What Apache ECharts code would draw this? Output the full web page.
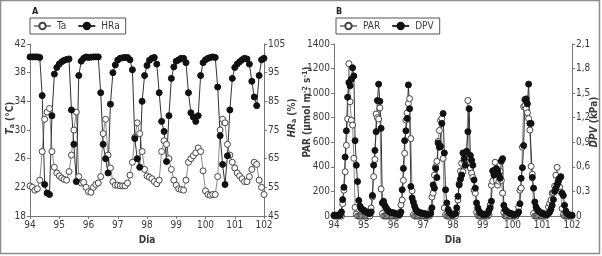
<!DOCTYPE html>
<html>
<head>
<meta charset="utf-8">
<script src="https://cdn.jsdelivr.net/npm/echarts@6/dist/echarts.min.js"></script>
<style>
  html, body { margin: 0; padding: 0; background: #fff; }
  #container { width: 602px; height: 256px; }
</style>
</head>
<body>
<div id="container"></div>
<script>
  // panel A: every 2 h, day 94 -> 102
  let stepA = 1 / 12;
  let ta = [
    22.2, 22.0, 21.6, 21.8, 23.0, 27.0, 31.5, 32.5, 33.0, 27.0, 24.8, 24.0,   // 94
    23.6, 23.3, 23.1, 23.0, 24.2, 26.5, 30.0, 32.5, 23.5, 22.6, 22.7, 22.0,   // 95
    21.4, 21.3, 22.0, 22.4, 22.6, 23.5, 29.5, 31.5, 26.5, 24.7, 22.8, 22.3,   // 96
    22.3, 22.2, 22.2, 22.2, 22.6, 23.7, 25.5, 29.0, 31.0, 29.5, 27.0, 24.5,   // 97
    23.6, 23.4, 23.2, 22.8, 22.5, 23.0, 27.0, 28.5, 28.0, 26.0, 24.5, 23.0,   // 98
    22.3, 21.8, 21.7, 21.6, 23.0, 25.5, 26.0, 26.4, 26.8, 27.5, 27.0, 24.3,   // 99
    21.5, 21.0, 20.9, 21.0, 21.0, 23.5, 30.0, 31.5, 31.0, 28.0, 26.5, 25.5,   // 100
    24.7, 24.0, 23.6, 23.2, 22.8, 22.8, 23.5, 24.5, 25.5, 25.2, 23.0, 22.0,   // 101
    21.0
  ];
  let hra = [
    100.5, 100.5, 100.5, 100.5, 100.3, 87, 56, 53, 52.5, 80, 94.5, 96.8,
    98, 98.8, 99.3, 99.6, 99.8, 82, 70, 57, 94, 99, 100, 100.5,
    100.3, 100.4, 100.5, 100.5, 100.5, 88, 70, 65, 60, 84, 95, 97.7,
    99.4, 100, 100.2, 100.3, 100.3, 99.5, 96, 72, 65, 62, 85, 94,
    97.5, 99.3, 100, 100.3, 98, 88, 78, 74.5, 64, 80, 93, 97,
    99, 99.5, 100, 100, 98.5, 88, 81, 79.5, 78, 80, 94, 98.5,
    99.5, 100, 100.3, 100.5, 100.3, 90, 73, 63, 56, 66, 82, 93,
    96.8, 98, 98.8, 99.5, 100, 99.8, 98, 92, 86.5, 83.5, 94, 99.5,
    100
  ];

  // panel B: hourly, day 94 -> 102
  let stepB = 1 / 24;
  let par = [
    0,0,0,0,0,0, 0,100,210,360,575,790, 1240,930,780,740,470,70, 15,0,0,0,0,0,
    0,0,0,0,0,0, 65,155,320,460,830,800, 790,880,220,20,0,0, 0,0,0,0,0,0,
    0,0,0,0,0,10, 90,130,290,510,780,840, 915,955,630,205,10,0, 0,0,0,0,0,0,
    0,0,0,0,0,0, 40,154,186,332,400,445, 607,696,777,793,469,65, 10,0,0,0,0,0,
    0,0,0,30,130,265, 365,430,360,450,455,470, 940,480,390,350,315,210, 185,30,5,0,0,0,
    0,0,0,0,0,10, 89,251,283,372,437,291, 251,283,364,290,186,30, 0,0,0,0,0,0,
    0,0,0,0,20,73, 210,227,560,890,898,874, 840,793,700,404,340,20, 0,0,0,0,0,0,
    0,0,0,0,10,73, 100,130,186,190,243,332, 396,300,235,194,60,10, 0,0,0,0,0,0,
    0
  ];
  let dpv = [
    0.01,0.01,0.01,0.01,0.01,0.01, 0.05,0.20,0.35,0.72,1.04,1.45, 1.63,1.59,1.67,1.81,1.71,0.92, 0.62,0.42,0.19,0.12,0.09,0.08,
    0.07,0.06,0.05,0.04,0.03,0.03, 0.05,0.25,0.62,0.80,1.03,1.41, 1.61,1.40,1.07,0.16,0.18,0.13, 0.10,0.08,0.06,0.05,0.04,0.04,
    0.04,0.03,0.03,0.02,0.02,0.02, 0.05,0.32,0.58,0.92,1.04,1.19, 1.60,1.31,0.36,0.22,0.17,0.12, 0.08,0.06,0.05,0.04,0.04,0.03,
    0.03,0.03,0.02,0.02,0.02,0.02, 0.03,0.10,0.38,0.34,0.58,0.47, 0.89,0.84,0.85,1.13,1.25,0.77, 0.32,0.16,0.08,0.05,0.03,0.02,
    0.02,0.02,0.03,0.10,0.24,0.38, 0.45,0.50,0.77,0.70,0.62,0.79, 1.03,1.31,0.74,0.68,0.62,0.44, 0.34,0.16,0.10,0.06,0.04,0.03,
    0.02,0.02,0.02,0.02,0.03,0.07, 0.10,0.18,0.55,0.50,0.56,0.58, 0.55,0.50,0.46,0.67,0.70,0.13, 0.08,0.06,0.05,0.04,0.03,0.03,
    0.02,0.02,0.02,0.02,0.03,0.05, 0.15,0.46,0.59,0.86,1.42,1.43, 1.37,1.61,1.13,1.13,0.47,0.34, 0.17,0.11,0.08,0.06,0.05,0.04,
    0.03,0.03,0.02,0.02,0.02,0.03, 0.05,0.08,0.13,0.20,0.30,0.34, 0.38,0.42,0.46,0.48,0.28,0.25, 0.13,0.06,0.03,0.02,0.01,0.01,
    0.01
  ];

  let font = '"Liberation Sans Narrow", "DejaVu Sans Condensed", sans-serif';
  let txt = '#3a3a3a';

  function pairs(vals, step) {
    return vals.map(function (v, i) { return [94 + i * step, v]; });
  }
  function plain(v) { return String(v); }

  function xAx(grid) {
    return {
      type: 'value', gridIndex: grid, min: 94, max: 102, interval: 1,
      name: 'Dia', nameLocation: 'middle', nameGap: 19,
      nameTextStyle: { fontFamily: font, fontWeight: 'bold', fontSize: 10, color: txt },
      axisLine: { lineStyle: { color: '#777' } },
      axisTick: { length: 3, lineStyle: { color: '#777' } },
      axisLabel: { fontFamily: font, fontSize: 10, color: txt, margin: 4, formatter: plain },
      splitLine: { show: false }
    };
  }
  function yAx(grid, pos, min, max, interval, fmt) {
    return {
      type: 'value', gridIndex: grid, position: pos, min: min, max: max, interval: interval,
      axisLine: { show: true, lineStyle: { color: '#777' } },
      axisTick: { show: true, length: 3, lineStyle: { color: '#777' } },
      axisLabel: { fontFamily: font, fontSize: 10, color: txt, margin: 4, formatter: fmt || plain },
      splitLine: { show: false }
    };
  }
  function openSeries(name, xi, yi, data) {
    return {
      name: name, type: 'line', xAxisIndex: xi, yAxisIndex: yi, data: data,
      symbol: 'circle', symbolSize: 6, showAllSymbol: true,
      lineStyle: { color: '#8a8a8a', width: 1 },
      itemStyle: { color: '#fff', borderColor: '#444', borderWidth: 1 }
    };
  }
  function fullSeries(name, xi, yi, data) {
    return {
      name: name, type: 'line', xAxisIndex: xi, yAxisIndex: yi, data: data,
      symbol: 'circle', symbolSize: 6, showAllSymbol: true,
      lineStyle: { color: '#333', width: 1 },
      itemStyle: { color: '#111', borderColor: '#111', borderWidth: 1 }
    };
  }
  function legend(items, left) {
    return {
      data: items, left: left, top: 18, orient: 'horizontal',
      borderColor: '#555', borderWidth: 1, borderRadius: 0,
      padding: [3, 6, 3, 3], itemGap: 11, itemWidth: 17, itemHeight: 8,
      textStyle: { fontFamily: font, fontSize: 10, color: txt, padding: [0, 0, 0, 1] }
    };
  }
  function vText(x, y, text, rich) {
    return {
      type: 'text', x: x, y: y, rotation: Math.PI / 2,
      style: {
        text: text, rich: rich, fontFamily: font, fontSize: 10, fontWeight: 'bold',
        fill: txt, align: 'center', verticalAlign: 'middle'
      }
    };
  }

  let sub = { fontFamily: font, fontSize: 7, fontWeight: 'bold', verticalAlign: 'bottom', padding: [4, 0, 0, 0] };
  let sup = { fontFamily: font, fontSize: 7, fontWeight: 'bold', verticalAlign: 'top', padding: [0, 0, 4, 0] };
  let it = { fontFamily: font, fontSize: 10, fontWeight: 'bold', fontStyle: 'italic' };
  let n = { fontFamily: font, fontSize: 10, fontWeight: 'bold' };

  let myChart = echarts.init(document.getElementById('container'));
  let option = {
    animation: false,
    backgroundColor: '#fff',
    grid: [
      { left: 30, top: 44, width: 234, height: 172 },
      { left: 334, top: 44, width: 238, height: 172 }
    ],
    legend: [legend(['Ta', 'HRa'], 30), legend(['PAR', 'DPV'], 336)],
    xAxis: [xAx(0), xAx(1)],
    yAxis: [
      yAx(0, 'left', 18, 42, 4),
      yAx(0, 'right', 45, 105, 10),
      yAx(1, 'left', 0, 1400, 200),
      yAx(1, 'right', 0, 2.1, 0.3, function (v) {
        return v === 0 ? '0' : v.toFixed(1).replace('.', ',');
      })
    ],
    series: [
      openSeries('Ta', 0, 0, pairs(ta, stepA)),
      fullSeries('HRa', 0, 1, pairs(hra, stepA)),
      openSeries('PAR', 1, 2, pairs(par, stepB)),
      fullSeries('DPV', 1, 3, pairs(dpv, stepB))
    ],
    graphic: [
      { type: 'rect', shape: { x: 0.5, y: 0.5, width: 599, height: 253 },
        style: { fill: null, stroke: '#8c8c8c', lineWidth: 1.5 } },
      { type: 'text', x: 32, y: 7, style: { text: 'A', fontFamily: font, fontSize: 9, fontWeight: 'bold', fill: '#222' } },
      { type: 'text', x: 336, y: 7, style: { text: 'B', fontFamily: font, fontSize: 9, fontWeight: 'bold', fill: '#222' } },
      vText(10, 118, '{i|T}{s|a}{n| (°C)}', { i: it, s: sub, n: n }),
      vText(292, 118, '{i|HR}{s|a}{n| (%)}', { i: it, s: sub, n: n }),
      vText(307, 112, '{n|PAR (µmol m}{p|-2}{n| s}{p|-1}{n|)}', { n: n, p: sup }),
      vText(594, 122, '{i|DPV}{n| (kPa)}', { i: it, n: n })
    ]
  };
  myChart.setOption(option);
</script>
</body>
</html>
